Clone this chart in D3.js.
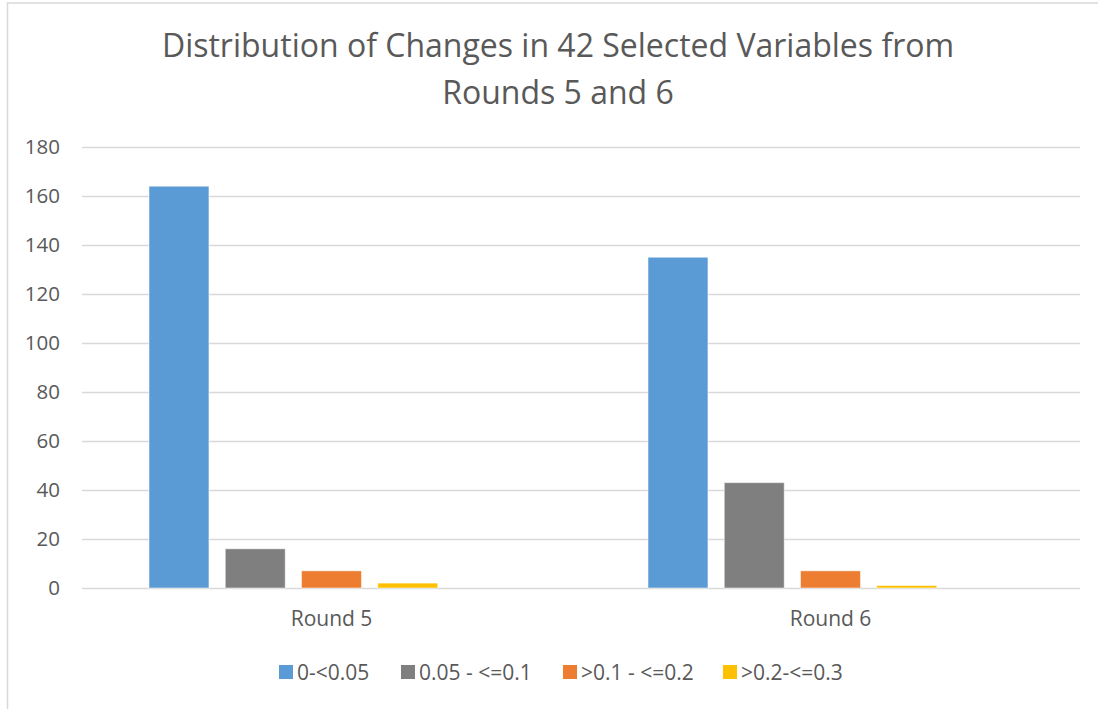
<!DOCTYPE html>
<html>
<head>
<meta charset="utf-8">
<script src="https://cdn.jsdelivr.net/npm/d3@7"></script>
<style>
  body { margin: 0; background: #fff; }
  text { font-family: "Open Sans", "Noto Sans", sans-serif; fill: #595959; }
</style>
</head>
<body>
<div class="chartDiv"></div>
<script>
// data
var rounds = ["Round 5", "Round 6"];
var seriesNames = ["0-<0.05", "0.05 - <=0.1", ">0.1 - <=0.2", ">0.2-<=0.3"];
var seriesColors = ["#5b9bd5", "#7f7f7f", "#ed7d31", "#ffc000"];
var values0to005 = [164, 135];
var values005to01 = [16, 43];
var values01to02 = [7, 7];
var values02to03 = [2, 1];
var yTicks = [0, 20, 40, 60, 80, 100, 120, 140, 160, 180];

var seriesValues = [values0to005, values005to01, values01to02, values02to03];
// the original chart reserves a fifth (empty) slot in each group
var slots = seriesNames.concat(["(empty)"]);

var width = 1098, height = 709;
var plot = { left: 82, right: 1080, top: 147, bottom: 588 };

var svg = d3.select(".chartDiv").append("svg")
    .attr("width", width)
    .attr("height", height);

// chart frame
svg.append("rect")
    .attr("x", 7.5)
    .attr("y", 3)
    .attr("width", width + 10)
    .attr("height", height + 10)
    .attr("fill", "white")
    .attr("stroke", "#d9d9d9")
    .attr("stroke-width", 1.5);

// title
var title = svg.append("text")
    .attr("text-anchor", "middle")
    .style("font-size", "32px");
title.append("tspan").attr("x", 558).attr("y", 57)
    .text("Distribution of Changes in 42 Selected Variables from");
title.append("tspan").attr("x", 558).attr("y", 104)
    .text("Rounds 5 and 6");

var y = d3.scaleLinear()
    .domain([0, 180])
    .range([plot.bottom, plot.top]);

var x0 = d3.scaleBand()
    .domain(rounds)
    .range([plot.left, plot.right])
    .padding(0);

var groupWidth = 365;
var x1 = d3.scaleBand()
    .domain(slots)
    .range([(x0.bandwidth() - groupWidth) / 2, (x0.bandwidth() + groupWidth) / 2])
    .paddingInner(0.214)
    .paddingOuter(0);

// gridlines + y labels
var yAxis = d3.axisLeft(y)
    .tickValues(yTicks)
    .tickSize(-(plot.right - plot.left))
    .tickPadding(22);

var yG = svg.append("g")
    .attr("transform", "translate(" + plot.left + ",0)")
    .call(yAxis);
yG.select(".domain").remove();
yG.selectAll(".tick line")
    .attr("stroke", "#d9d9d9")
    .attr("stroke-width", 1.5);
yG.selectAll(".tick text")
    .attr("fill", "#595959")
    .style("font-size", "20.5px")
    .style("font-family", "\"Open Sans\", sans-serif");

// bars
var groups = svg.selectAll(".round")
    .data(rounds)
    .enter().append("g")
    .attr("class", "round")
    .attr("transform", function(d) { return "translate(" + x0(d) + ",0)"; });

groups.selectAll("rect")
    .data(function(d, i) {
        return seriesNames.map(function(s, j) {
            return { series: s, value: seriesValues[j][i], color: seriesColors[j] };
        });
    })
    .enter().append("rect")
    .attr("x", function(d) { return x1(d.series); })
    .attr("y", function(d) { return y(d.value); })
    .attr("width", x1.bandwidth())
    .attr("height", function(d) { return y(0) - y(d.value); })
    .attr("fill", function(d) { return d.color; })
    .attr("stroke", "white")
    .attr("stroke-opacity", 0.5)
    .attr("stroke-width", 1);

// x axis (category labels)
var xAxis = d3.axisBottom(x0).tickSize(0).tickPadding(23);
var xG = svg.append("g")
    .attr("transform", "translate(0," + plot.bottom + ")")
    .call(xAxis);
xG.select(".domain").remove();
xG.selectAll(".tick text")
    .attr("fill", "#595959")
    .style("font-size", "21px")
    .style("font-family", "\"Open Sans\", sans-serif");

// legend
var legendX = [279, 401, 563, 723];
var legend = svg.selectAll(".legendItem")
    .data(seriesNames)
    .enter().append("g")
    .attr("class", "legendItem")
    .attr("transform", function(d, i) { return "translate(" + legendX[i] + ",665)"; });

legend.append("rect")
    .attr("width", 14)
    .attr("height", 14)
    .attr("fill", function(d, i) { return seriesColors[i]; });

legend.append("text")
    .attr("x", 18)
    .attr("y", 14.5)
    .style("font-size", "21px")
    .text(function(d) { return d; });
</script>
</body>
</html>
